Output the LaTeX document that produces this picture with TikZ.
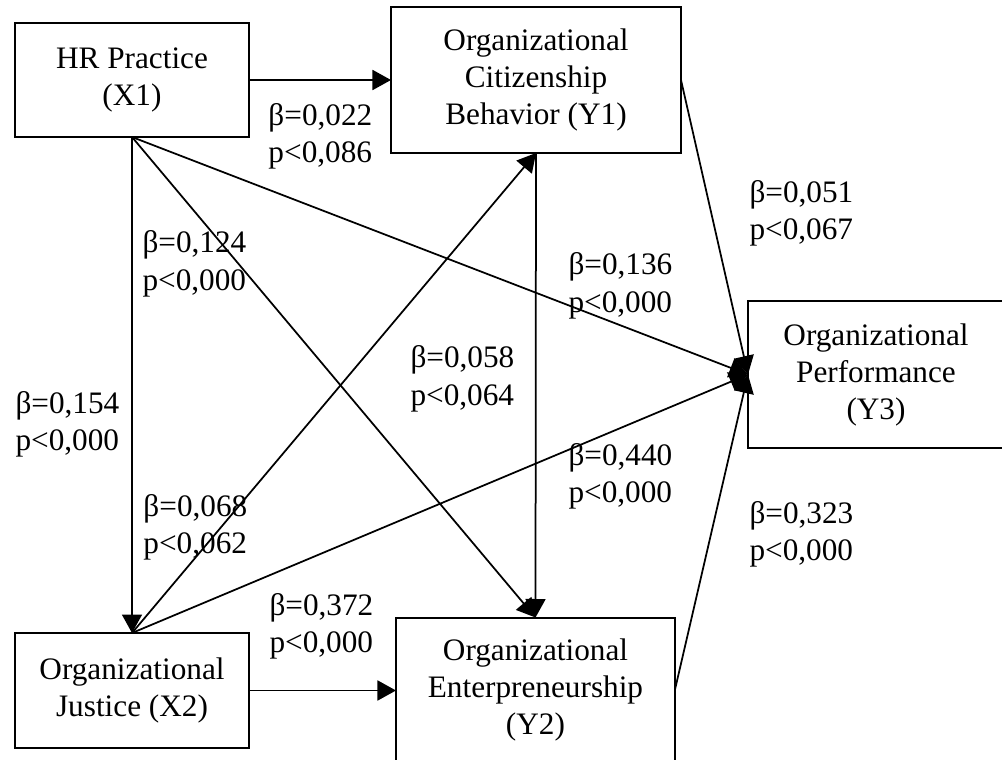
\documentclass[tikz,border=0pt]{standalone}
\usepackage{fontspec}
\setmainfont{Liberation Serif}
\usetikzlibrary{arrows.meta,positioning}

\begin{document}
\begin{tikzpicture}[x=0.4pt, y=-0.4pt, font=\fontsize{12.5}{14.8}\selectfont]
		\tikzstyle{construct} = [rectangle, draw=black, line width=0.8pt, 
		inner sep=0pt, outer sep=0pt, align=center]
		\tikzstyle{coef} = [align=left, inner sep=0pt, anchor=base west]
		\tikzstyle{arrow} = [line width=0.7pt, -{Triangle[length=7.4pt, width=8pt]}]
		\clip (0,0) rectangle (1002,760);
		\node (hrPractice) [construct, minimum width=93.6pt, minimum height=45.6pt] at (132,80) {HR Practice\\(X1)};
		\node (citizenship) [construct, minimum width=116pt, minimum height=58.4pt] at (536,80) {Organizational\\Citizenship\\Behavior (Y1)};
		\node (performance) [construct, minimum width=102.4pt, minimum height=58.8pt] at (876,374.5) {Organizational\\Performance\\(Y3)};
		\node (justice) [construct, minimum width=93.6pt, minimum height=46pt] at (132,690.5) {Organizational\\Justice (X2)};
		\node (entrepreneurship) [construct, minimum width=111.6pt, minimum height=57.6pt] at (535.5,689.5) {Organizational\\Enterpreneurship\\(Y2)};
		% coefficients, placed at the baseline of their second line
		\node (coefHrOcb) [coef] at (268,162) {β=0,022\\p<0,086};
		\node (coefOcbOp) [coef] at (749,239) {β=0,051\\p<0,067};
		\node (coefHrOe) [coef] at (142,290) {β=0,124\\p<0,000};
		\node (coefHrOp) [coef] at (568,312) {β=0,136\\p<0,000};
		\node (coefOcbOe) [coef] at (410,405) {β=0,058\\p<0,064};
		\node (coefHrOj) [coef] at (15,450) {β=0,154\\p<0,000};
		\node (coefOjOp) [coef] at (568,502) {β=0,440\\p<0,000};
		\node (coefOjOcb) [coef] at (143,553) {β=0,068\\p<0,062};
		\node (coefOeOp) [coef] at (749,560) {β=0,323\\p<0,000};
		\node (coefOjOe) [coef] at (269,652) {β=0,372\\p<0,000};
		\draw [arrow] (hrPractice) -- (citizenship);
		\draw [arrow] (hrPractice.south) -- (justice.north);
		\draw [arrow] (hrPractice.south) -- (entrepreneurship.north);
		\draw [arrow] (hrPractice.south) -- (performance.west);
		\draw [arrow] (justice.north) -- (citizenship.south);
		\draw [arrow] (justice.north) -- (performance.west);
		\draw [arrow] (citizenship.south) -- (entrepreneurship.north);
		\draw [arrow] (citizenship.east) -- (performance.west);
		\draw [arrow] (entrepreneurship.east) -- (performance.west);
		\draw [arrow] (justice.east) -- (entrepreneurship.west |- justice.east);
		\end{tikzpicture}
\end{document}
